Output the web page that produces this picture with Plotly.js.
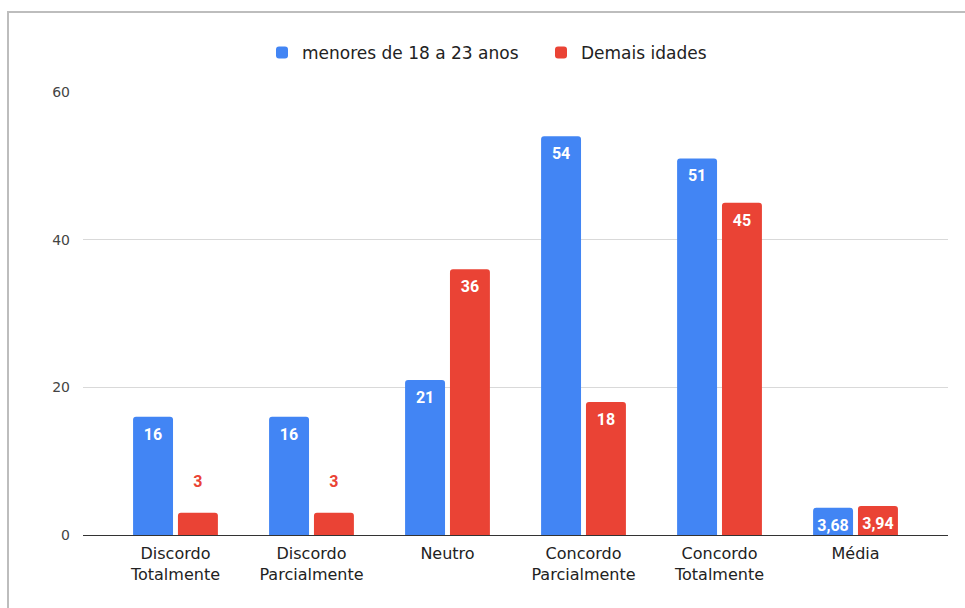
<!DOCTYPE html>
<html>
<head>
<meta charset="utf-8">
<script src="https://cdn.plot.ly/plotly-3.0.1.min.js"></script>
<style>
  html, body { margin: 0; padding: 0; background: #fff; overflow: hidden; }
  #frame { position: absolute; left: 7px; top: 11px; width: 1000px; height: 700px; border: 2px solid #bdbdbd; pointer-events: none; z-index: 5; }
  #chart { position: absolute; left: 0; top: 0; width: 965px; height: 608px; }
</style>
</head>
<body>
<div id="chart"></div>
<div id="frame"></div>
<script>
const categories = ["Discordo<br>Totalmente", "Discordo<br>Parcialmente", "Neutro", "Concordo<br>Parcialmente", "Concordo<br>Totalmente", "Média"];
const seriesNames = ["menores de 18 a 23 anos", "Demais idades"];
const youngValues = [16, 16, 21, 54, 51, 3.68];
const otherValues = [3, 3, 36, 18, 45, 3.94];
const youngLabels = ["16", "16", "21", "54", "51", "3,68"];
const otherLabels = ["3", "3", "36", "18", "45", "3,94"];
const otherLabelOutside = [true, true, false, false, false, false];
const yTicks = [0, 20, 40, 60];

const blue = "#4285F4", red = "#EA4335";
const textFamily = "'DejaVu Sans', Arial, sans-serif";
const labelFamily = "Roboto, Arial, sans-serif";

function labelTrace(values, labels, outside, offsetgroup) {
  return {
    type: "scatter", mode: "markers+text", x: categories, y: values,
    offsetgroup: offsetgroup, showlegend: false, hoverinfo: "skip", cliponaxis: false,
    marker: {opacity: 0, size: outside.map(o => o ? 33 : 16)},
    text: labels,
    textposition: outside.map(o => o ? "top center" : "bottom center"),
    textfont: {family: labelFamily, size: 16, weight: "bold", color: outside.map(o => o ? red : "#ffffff")}
  };
}

const traces = [
  {
    type: "bar", name: seriesNames[0], x: categories, y: youngValues,
    offsetgroup: "a", marker: {color: blue, cornerradius: 3}, hoverinfo: "x+y"
  },
  {
    type: "bar", name: seriesNames[1], x: categories, y: otherValues,
    offsetgroup: "b", marker: {color: red, cornerradius: 3}, hoverinfo: "x+y"
  },
  labelTrace(youngValues, youngLabels, youngValues.map(() => false), "a"),
  labelTrace(otherValues, otherLabels, otherLabelOutside, "b")
];

const layout = {
  width: 965, height: 608,
  margin: {l: 83, r: 17, t: 92, b: 73},
  paper_bgcolor: "#ffffff", plot_bgcolor: "#ffffff",
  barmode: "group", bargap: 0.34, bargroupgap: 0.11,
  scattermode: "group", scattergap: 0.34,
  font: {family: textFamily, size: 16, color: "#222222"},
  showlegend: true,
  legend: {
    orientation: "h", xref: "container", yref: "container",
    x: 0.2715, xanchor: "left", y: 0.913, yanchor: "middle",
    entrywidth: 234, entrywidthmode: "pixels",
    font: {family: textFamily, size: 17, color: "#222222"}, itemwidth: 30, traceorder: "normal"
  },
  xaxis: {
    type: "category", range: [-0.68, 5.68],
    showgrid: false, zeroline: false, showline: true, linecolor: "#333333", linewidth: 1,
    ticks: "", ticklabelstandoff: 4,
    tickfont: {family: textFamily, size: 16, color: "#222222"}, fixedrange: true
  },
  yaxis: {
    range: [0, 60], tickvals: yTicks, ticktext: yTicks.map(String),
    showgrid: true, gridcolor: "#d9d9d9", gridwidth: 1, zeroline: false,
    showline: false, ticks: "", ticklabelstandoff: 12,
    tickfont: {family: textFamily, size: 14, color: "#444444"}, fixedrange: true
  }
};

Plotly.newPlot("chart", traces, layout, {displayModeBar: false, staticPlot: true});
</script>
</body>
</html>
